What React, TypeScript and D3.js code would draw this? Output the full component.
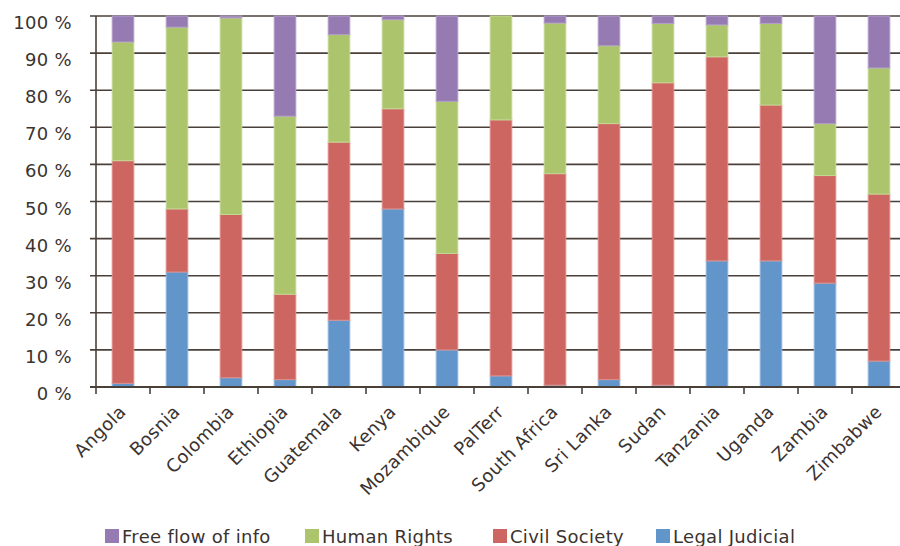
import React from "react";
import * as d3 from "d3";

const categories = ["Angola","Bosnia","Colombia","Ethiopia","Guatemala","Kenya","Mozambique","PalTerr","South Africa","Sri Lanka","Sudan","Tanzania","Uganda","Zambia","Zimbabwe"];
const legalJudicial = [1, 31, 2.5, 2, 18, 48, 10, 3, 0.5, 2, 0.5, 34, 34, 28, 7];
const civilSociety = [60, 17, 44, 23, 48, 27, 26, 69, 57, 69, 81.5, 55, 42, 29, 45];
const humanRights = [32, 49, 53, 48, 29, 24, 41, 28, 40.6, 21, 16, 8.6, 22, 14, 34];
const freeFlow = [7, 3, 0.5, 27, 5, 1, 23, 0, 1.9, 8, 2, 2.4, 2, 29, 14];
const yTicks = [0, 10, 20, 30, 40, 50, 60, 70, 80, 90, 100];

const seriesNames = ["Legal Judicial", "Civil Society", "Human Rights", "Free flow of info"];
const seriesValues = [legalJudicial, civilSociety, humanRights, freeFlow];
const colors = ["#6296CA", "#CD6660", "#ACC46C", "#957BB2"];
const strokes = ["#8FB4DC", "#E08E89", "#C4D894", "#B29DC9"];
const legendOrder = [3, 2, 1, 0];

const FONT = "'DejaVu Sans', sans-serif";
const TEXT = "#3b3330";
const FS = 18;
const LS = 0.3;

export default function App() {
  const width = 900, height = 546;
  const x0 = 96, x1 = 906, yTop = 16, yBot = 387;
  const x = d3.scaleBand<string>().domain(categories).range([x0, x1]).paddingInner(0.6).paddingOuter(0.3);
  const step = x.step();
  const y = d3.scaleLinear().domain([0, 100]).range([yBot, yTop]);

  const rows = categories.map((c, i) => {
    const r: any = { cat: c };
    seriesNames.forEach((s, k) => (r[s] = seriesValues[k][i]));
    return r;
  });
  const stacked = d3.stack<any>().keys(seriesNames)(rows);

  const legendX = [105, 305, 493, 656];

  return (
    <svg width={width} height={height} style={{ position: "absolute", left: 0, top: 0, background: "#fff" }}>
      {yTicks.map((t) => (
        <g key={t}>
          <line x1={90} x2={x1} y1={y(t)} y2={y(t)} stroke="#4a403a" strokeWidth={1.6} />
          <text x={72} y={y(t) + 13} textAnchor="end" fontFamily={FONT} fontSize={FS} letterSpacing={LS} fill={TEXT}>{`${t} %`}</text>
        </g>
      ))}
      {stacked.map((layer, k) => (
        <g key={layer.key} fill={colors[k]} stroke={strokes[k]} strokeWidth={1}>
          {layer.map((d, i) => {
            const h = y(d[0]) - y(d[1]);
            if (h <= 0) return null;
            return (
              <rect key={i} x={x(categories[i])!} y={y(d[1])} width={x.bandwidth()} height={h} />
            );
          })}
        </g>
      ))}
      <line x1={x0} x2={x0} y1={yTop} y2={yBot} stroke="#4a403a" strokeWidth={1.6} />
      <line x1={90} x2={x1} y1={yBot} y2={yBot} stroke="#4a403a" strokeWidth={1.8} />
      {d3.range(categories.length + 1).map((i) => (
        <line key={i} x1={x0 + i * step} x2={x0 + i * step} y1={yBot} y2={yBot + 7} stroke="#4a403a" strokeWidth={1.6} />
      ))}
      {categories.map((c) => {
        const cx = x(c)! + x.bandwidth() / 2 + 4;
        const cy = 413;
        return (
          <text key={c} x={cx} y={cy} textAnchor="end" fontFamily={FONT} fontSize={FS} letterSpacing={LS} fill={TEXT}
            transform={`rotate(-45, ${cx}, ${cy})`}>{c}</text>
        );
      })}
      {legendOrder.map((k, j) => (
        <g key={k}>
          <rect x={legendX[j]} y={529} width={14} height={14} fill={colors[k]} />
          <text x={legendX[j] + 17} y={543} fontFamily={FONT} fontSize={FS} letterSpacing={LS} fill={TEXT}>{seriesNames[k]}</text>
        </g>
      ))}
    </svg>
  );
}
